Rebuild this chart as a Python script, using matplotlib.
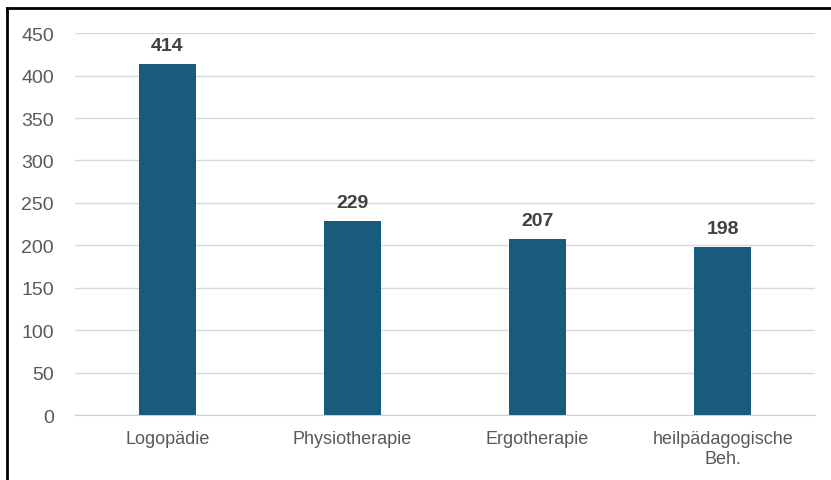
import matplotlib.pyplot as plt
from matplotlib.lines import Line2D

categories = ['Logopädie', 'Physiotherapie', 'Ergotherapie', 'heilpädagogische\nBeh.']
values = [414, 229, 207, 198]
yticks = [0, 50, 100, 150, 200, 250, 300, 350, 400, 450]

plt.rcParams['font.family'] = ['Liberation Sans', 'DejaVu Sans']

fig = plt.figure(figsize=(8.31, 4.81), dpi=100)
ax = fig.add_axes([0.090, 0.135, 0.891, 0.794])

x = range(len(categories))
bars = ax.bar(x, values, width=0.31, color='#185b7d', zorder=3)
for b, v in zip(bars, values):
	ax.text(b.get_x() + b.get_width() / 2, v + 12, str(v), ha='center', va='bottom',
			fontsize=14, fontweight='bold', color='#404040')

ax.set_xlim(-0.5, len(categories) - 0.5)
ax.set_ylim(0, 450)
ax.set_yticks(yticks)
ax.set_xticks(list(x))
ax.set_xticklabels(categories, fontsize=13, color='#595959', linespacing=1.2)
ax.tick_params(axis='y', labelsize=14, labelcolor='#595959', length=0, pad=15)
ax.tick_params(axis='x', length=0, pad=11)
ax.grid(axis='y', color='#d9d9d9', linewidth=1, zorder=0)
for s in ['top', 'right', 'left']:
	ax.spines[s].set_visible(False)
ax.spines['bottom'].set_color('#d0d0d0')

# black frame (left and top only visible)
fig.add_artist(Line2D([0.0084, 0.0084], [0, 0.981], color='black', linewidth=2, transform=fig.transFigure))
fig.add_artist(Line2D([0.0084, 1.0], [0.981, 0.981], color='black', linewidth=2, transform=fig.transFigure))

fig.savefig('out.png', dpi=100)
